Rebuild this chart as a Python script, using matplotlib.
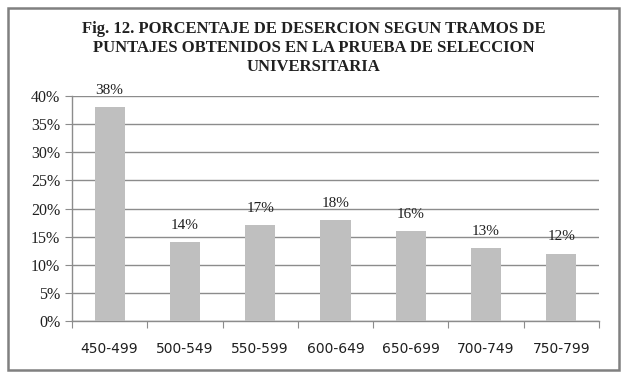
import numpy as np
import matplotlib.pyplot as plt
from matplotlib.patches import Rectangle
from matplotlib.ticker import MultipleLocator, FuncFormatter

# datos
tramos = ['450-499', '500-549', '550-599', '600-649', '650-699', '700-749', '750-799']
desercion = [38, 14, 17, 18, 16, 13, 12]

titulo = ('Fig. 12. PORCENTAJE DE DESERCION SEGUN TRAMOS DE\n'
          'PUNTAJES OBTENIDOS EN LA PRUEBA DE SELECCION\n'
          'UNIVERSITARIA')

fig = plt.figure(figsize=(6.27, 3.78), dpi=100)
fig.patch.set_facecolor('white')

# marco exterior
fig.patches.append(Rectangle((8 / 627, 8 / 378), 611 / 627, 362 / 378, transform=fig.transFigure,
                             fill=False, edgecolor='#808080', linewidth=1.8))

ax = fig.add_axes([0.1148, 0.1508, 0.8405, 0.595])
x = np.arange(len(tramos))
ax.bar(x, desercion, width=0.4, color='#BFBFBF', zorder=3)

for xi, v in zip(x, desercion):
    ax.text(xi, v + 1.8, f'{v}%', ha='center', va='bottom', fontsize=11,
            family='Liberation Serif', color='#202020')

ax.set_xlim(-0.5, len(tramos) - 0.5)
ax.set_ylim(0, 40)
ax.yaxis.set_major_locator(MultipleLocator(5))
ax.yaxis.set_major_formatter(FuncFormatter(lambda v, p: f'{v:.0f}%'))
ax.grid(axis='y', color='#8c8c8c', linewidth=1.0, zorder=0)

# marcas entre categorias
ax.set_xticks(np.arange(-0.5, len(tramos), 1.0))
ax.set_xticklabels([])
ax.set_xticks(x, minor=True)
ax.set_xticklabels(tramos, minor=True, fontsize=10, family='DejaVu Sans', color='#202020')
ax.tick_params(axis='x', which='major', length=5, color='#8c8c8c', direction='out')
ax.tick_params(axis='x', which='minor', length=0, pad=15)
ax.tick_params(axis='y', length=5, color='#8c8c8c', labelsize=11.5, labelcolor='#202020')
for lab in ax.get_yticklabels():
    lab.set_family('Liberation Serif')

for s in ['top', 'right']:
    ax.spines[s].set_visible(False)
for s in ['left', 'bottom']:
    ax.spines[s].set_color('#8c8c8c')
    ax.spines[s].set_linewidth(1.0)

fig.text(0.5, 1 - 48 / 378, titulo, ha='center', va='center', fontsize=12, fontweight='bold',
         family='Liberation Serif', linespacing=1.22, color='#202020')

plt.savefig('out.png', dpi=100)
